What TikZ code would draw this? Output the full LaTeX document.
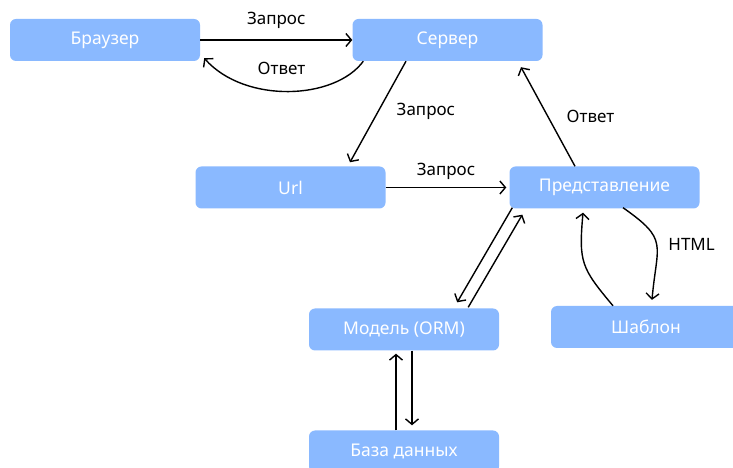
\documentclass[tikz,border=0pt]{standalone}
\usepackage{fontspec}
\setmainfont{Noto Sans}
\usetikzlibrary{positioning,arrows.meta}
\definecolor{boxblue}{RGB}{138,185,255}

\begin{document}
\begin{tikzpicture}[
    x=1pt, y=1pt,
    box/.style={rectangle, rounded corners=6pt, fill=boxblue, draw=none, text=white,
        minimum width=190pt, minimum height=42pt, font=\fontsize{17.5}{20}\selectfont},
    lbl/.style={inner sep=0pt, text=black, font=\fontsize{17}{20}\selectfont},
    arr/.style={-{Straight Barb[length=5.5pt,width=13pt]}, line width=1.4pt, draw=black}
    ]
        \useasboundingbox (0,0) rectangle (733,468);
        %Nodes
        \node[box] (browser) at (105,428)   {Браузер};
        \node[box] (server)  at (447.5,428) {Сервер};
        \node[box] (url)     at (290.5,280.5) {Url};
        \node[box] (view)    at (604.5,280.5) {Представление};
        \node[box] (model)   at (404,138.5) {Модель (ORM)};
        \node[box] (tmpl)    at (646,141)   {Шаблон};
        \node[box] (db)      at (404,16.5)  {База данных};

        %Lines
        \draw[arr] (browser.east) -- node[lbl, above=11pt] {Запрос} (server.west);
        \draw[arr] ([xshift=11pt]server.south west)
            .. controls (335,368) and (245,364) ..
            node[lbl, above=16pt, xshift=-7pt] {Ответ} ([xshift=4pt, yshift=3pt]browser.south east);
        \draw[arr] ([xshift=-41.5pt]server.south) --
            node[lbl, right=18pt] {Запрос} ([xshift=59.5pt, yshift=4pt]url.north);
        \draw[arr] (url.east) -- node[lbl, above=7pt] {Запрос} ([xshift=-3pt]view.west);
        \draw[arr] ([xshift=-29.5pt]view.north) --
            node[lbl, right=18pt] {Ответ} ([xshift=73.5pt, yshift=-6pt]server.south);

        \draw[arr] ([xshift=3pt, yshift=1pt]view.south west) -- ([xshift=-42pt, yshift=6pt]model.north east);
        \draw[arr] ([xshift=-31pt, yshift=1pt]model.north east) -- ([xshift=13pt, yshift=-6pt]view.south west);

        \draw[arr] ([xshift=18.5pt, yshift=1pt]view.south) to[out=-35, in=85, looseness=1.5]
            node[lbl, right=11pt] {HTML} ([xshift=6pt, yshift=6pt]tmpl.north);
        \draw[arr] ([xshift=-33pt]tmpl.north) to[out=130, in=-95, looseness=1.3] ([xshift=-21.5pt, yshift=-4pt]view.south);

        \draw[arr] ([xshift=-8pt]db.north) -- ([xshift=-8pt, yshift=-3pt]model.south);
        \draw[arr] ([xshift=8pt]model.south) -- ([xshift=8pt, yshift=5pt]db.north);
    \end{tikzpicture}
\end{document}
